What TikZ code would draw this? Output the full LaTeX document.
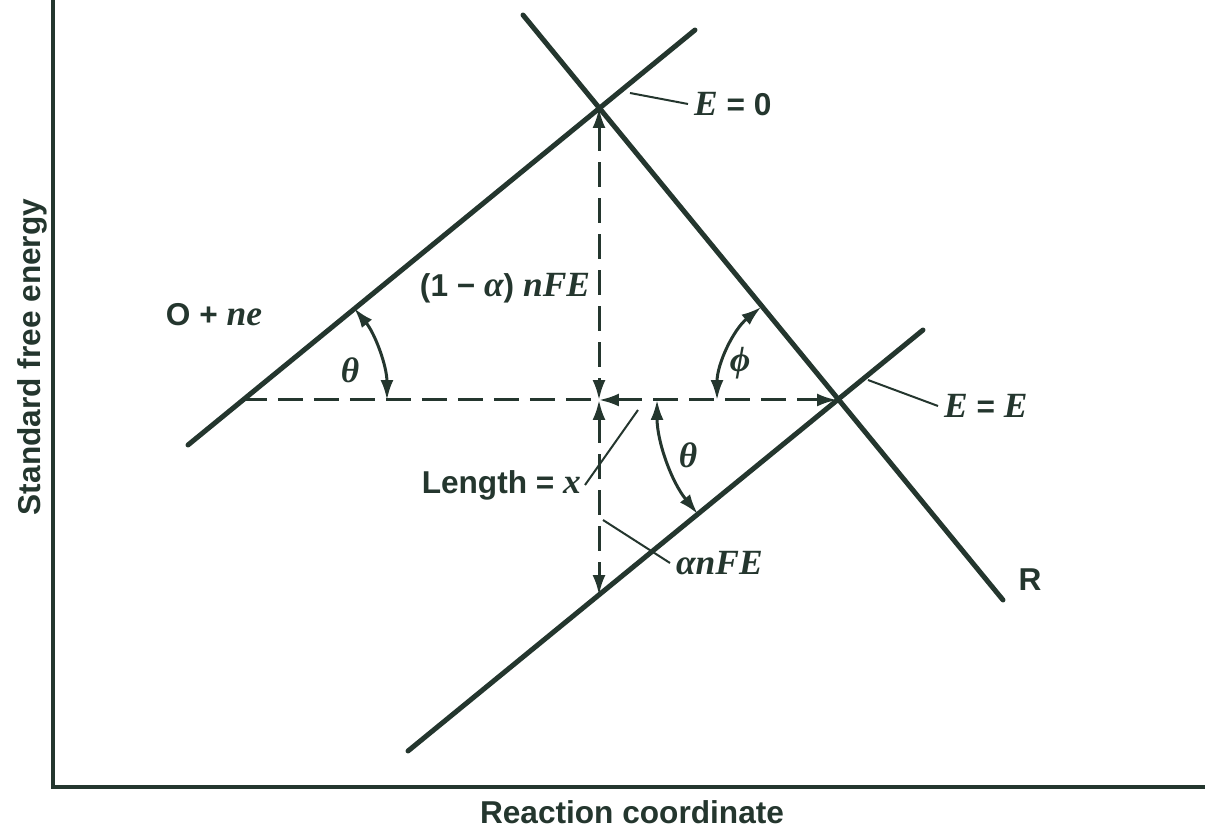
\documentclass[tikz,border=0pt]{standalone}
\usepackage{fontspec}
\setsansfont{Liberation Sans}
\newfontfamily\varfont{Liberation Serif}[Scale=1.12]
\newcommand{\mathvar}[1]{{\varfont\bfseries\itshape #1}}
\usetikzlibrary{positioning,arrows.meta}
\definecolor{Ink}{RGB}{36,54,46}

\begin{document}
\begin{tikzpicture}[x=0.02cm,y=-0.02cm,>={Latex[length=0.4cm,width=0.26cm]},
      every node/.style={text=Ink},
      curve/.style={draw=Ink,line width=0.1cm,line cap=round},
      axis/.style={draw=Ink,line width=0.065cm},
      guide/.style={draw=Ink,line width=0.06cm,dash pattern=on 0.5cm off 0.22cm},
      ang/.style={<->,draw=Ink,line width=0.06cm},
      lead/.style={draw=Ink,line width=0.04cm},
      lab/.style={font=\fontsize{18}{21}\selectfont\sffamily\bfseries,inner sep=1pt},
      axlab/.style={font=\fontsize{18}{22}\selectfont\sffamily\bfseries}]
    \useasboundingbox (0,0) rectangle (1205,834);
    % crossing points
    \coordinate (top) at (599,108);
    \coordinate (mid) at (599,400);
    \coordinate (right) at (837,400);
    \coordinate (left) at (242,400);
    \coordinate (low) at (599,595);
    % axes
    \coordinate (yend) at (53,0);
    \coordinate (origin) at (53,787);
    \coordinate (xend) at (1205,787);
    \draw[axis] (yend) -- (origin) -- (xend);
    \node[axlab,rotate=90] (ylab) at (32,357) {Standard free energy};
    \node[axlab] (xlab) at (632,812) {Reaction coordinate};
    % free energy lines
    \coordinate (o1) at (188,445); \coordinate (o2) at (695,30);
    \coordinate (r1) at (523,15);  \coordinate (r2) at (1003,600);
    \coordinate (p1) at (408,751); \coordinate (p2) at (923,330);
    \foreach \x/\y in {o1/o2,r1/r2,p1/p2}
      \draw[curve] (\x) -- (\y);
    % dashed construction
    \draw[guide] (left) -- (mid);
    \draw[guide,<->] (mid) -- (right);
    \draw[guide,<->] (top) -- (mid);
    \draw[guide,<->] (mid) -- (low);
    % angles
    \draw[ang] ([shift={(0:2.9cm)}]left) arc[start angle=0,end angle=39.3,radius=2.9cm];
    \draw[ang] ([shift={(129.2:2.4cm)}]right) arc[start angle=129.2,end angle=180,radius=2.4cm];
    \draw[ang] ([shift={(180:3.6cm)}]right) arc[start angle=180,end angle=219.3,radius=3.6cm];
    \node[lab] (th1) at (350,370) {\mathvar{θ}};
    \node[lab] (phi) at (740,363) {\mathvar{ϕ}};
    \node[lab] (th2) at (688,455) {\mathvar{θ}};
    % labels
    \node[lab] (ox) at (214,315) {O + \mathvar{ne}};
    \node[lab] (shift) at (505,288) {(1 − \mathvar{α}) \mathvar{nFE}};
    \node[lab] (rlab) at (1030,580) {R};
    \coordinate (e0a) at (630,93);  \coordinate (e0b) at (688,104);
    \coordinate (eea) at (868,380); \coordinate (eeb) at (938,406);
    \coordinate (lxa) at (638,410); \coordinate (lxb) at (585,485);
    \coordinate (afa) at (603,520); \coordinate (afb) at (670,563);
    \foreach \x/\y in {e0a/e0b,eea/eeb,lxa/lxb,afa/afb}
      \draw[lead] (\x) -- (\y);
    \node[lab,right=0.08cm of e0b] (e0) {\mathvar{E} = 0};
    \node[lab,right=0.08cm of eeb] (ee) {\mathvar{E} = \mathvar{E}};
    \node[lab,left=0.04cm of lxb] (len) {Length = \mathvar{x}};
    \node[lab,right=0.08cm of afb] (anfe) {\mathvar{αnFE}};
  \end{tikzpicture}
\end{document}
